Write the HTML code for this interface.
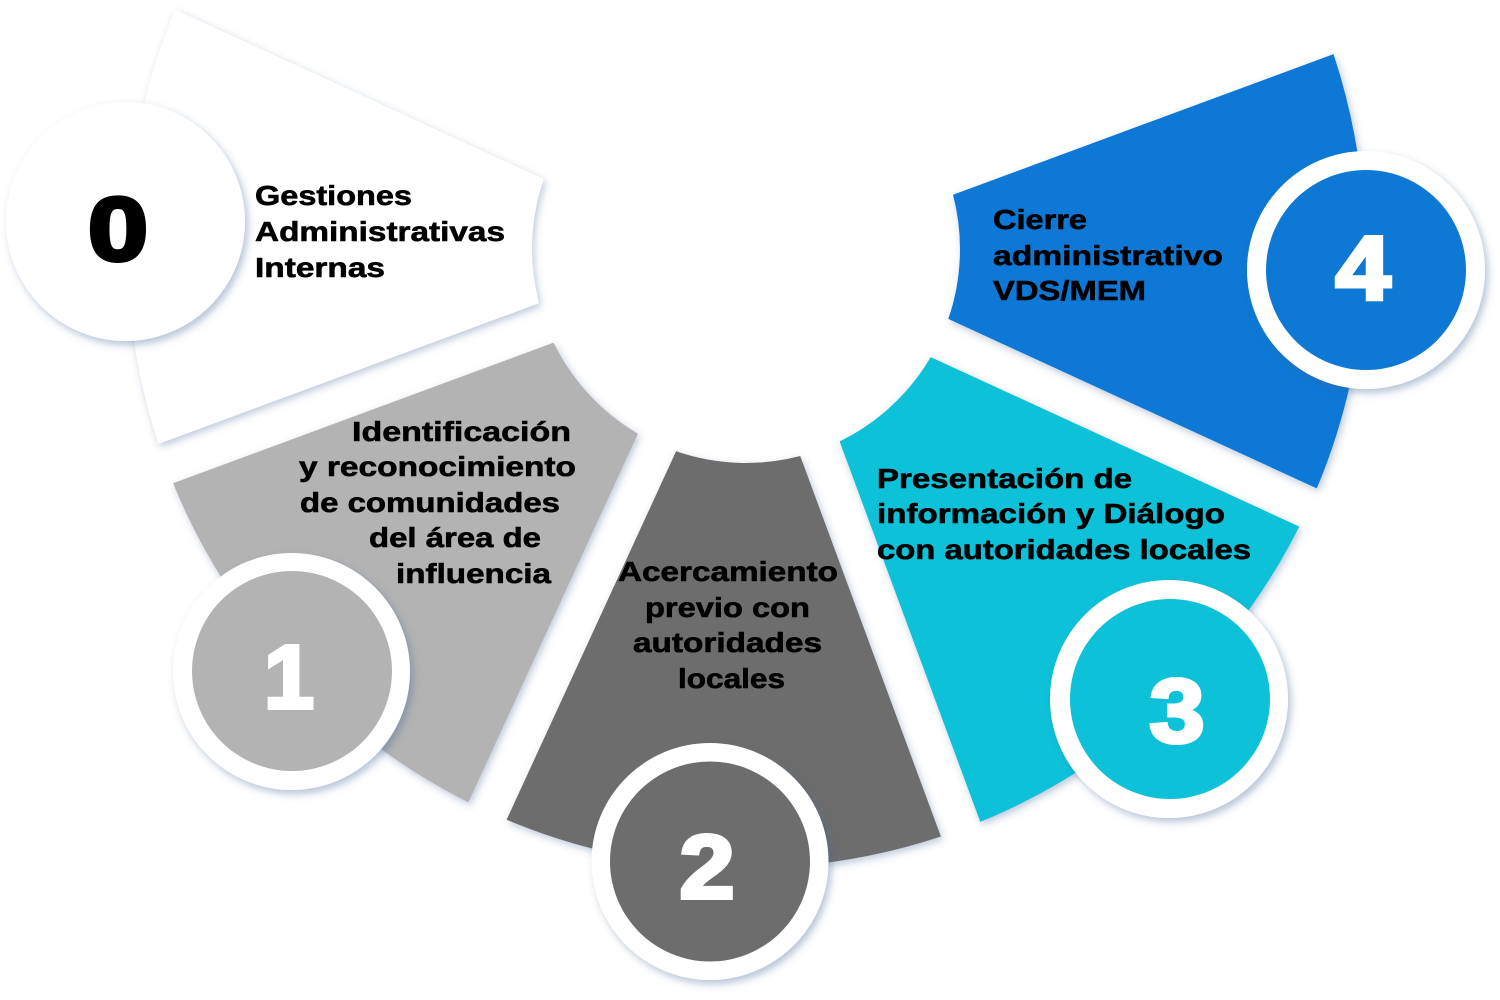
<!DOCTYPE html>
<html>
<head>
<meta charset="utf-8">
<style>
  html, body { margin: 0; padding: 0; background: #ffffff; }
  body { width: 1500px; height: 1000px; overflow: hidden; }
  svg { display: block; }
  .lbl { font-family: "Liberation Sans", "DejaVu Sans", sans-serif; font-weight: bold; font-size: 28px; fill: #000; stroke: #000; stroke-width: 0.6px; }
  .dig { font-family: "Liberation Sans", "DejaVu Sans", sans-serif; font-weight: bold; font-size: 90px; }
</style>
</head>
<body>
<svg width="1500" height="1000" viewBox="0 0 1500 1000" xmlns="http://www.w3.org/2000/svg">
  <defs>
    <filter id="sh" x="-20%" y="-20%" width="140%" height="140%">
      <feDropShadow dx="2" dy="3" stdDeviation="4" flood-color="#3f6293" flood-opacity="0.35"/>
    </filter>
    <filter id="shc" x="-20%" y="-20%" width="140%" height="140%">
      <feDropShadow dx="3" dy="4" stdDeviation="4" flood-color="#3f6293" flood-opacity="0.38"/>
    </filter>
  </defs>

  <!-- Segments -->
  <path filter="url(#sh)" fill="#ffffff" d="M 158.5 443.9 A 619 619 0 0 1 175.2 9.6 L 543.7 179.1 A 214 214 0 0 0 539.0 303.2 Z"/>
  <path filter="url(#sh)" fill="#b3b3b3" d="M 468.4 802.3 A 619 619 0 0 1 173.1 483.3 L 553.6 342.6 A 214 214 0 0 0 637.9 433.7 Z"/>
  <path filter="url(#sh)" fill="#6d6d6d" d="M 940.9 836.5 A 619 619 0 0 1 506.6 819.8 L 676.1 451.3 A 214 214 0 0 0 800.2 456.0 Z"/>
  <path filter="url(#sh)" fill="#0dc1d9" d="M 1299.3 526.6 A 619 619 0 0 1 980.3 821.9 L 839.6 441.4 A 214 214 0 0 0 930.7 357.1 Z"/>
  <path filter="url(#sh)" fill="#0e78d5" d="M 1333.5 54.1 A 619 619 0 0 1 1316.8 488.4 L 948.3 318.9 A 214 214 0 0 0 953.0 194.8 Z"/>

  <!-- Labels -->
  <text class="lbl" x="255" y="205" textLength="157" lengthAdjust="spacingAndGlyphs">Gestiones</text>
  <text class="lbl" x="255" y="241" textLength="250" lengthAdjust="spacingAndGlyphs">Administrativas</text>
  <text class="lbl" x="255" y="277" textLength="130" lengthAdjust="spacingAndGlyphs">Internas</text>

  <text class="lbl" x="352" y="441" textLength="219" lengthAdjust="spacingAndGlyphs">Identificación</text>
  <text class="lbl" x="299" y="476" textLength="277" lengthAdjust="spacingAndGlyphs">y reconocimiento</text>
  <text class="lbl" x="300" y="512" textLength="260" lengthAdjust="spacingAndGlyphs">de comunidades</text>
  <text class="lbl" x="369" y="547" textLength="172" lengthAdjust="spacingAndGlyphs">del área de</text>
  <text class="lbl" x="396" y="583" textLength="155" lengthAdjust="spacingAndGlyphs">influencia</text>

  <text class="lbl" x="618" y="581" textLength="220" lengthAdjust="spacingAndGlyphs">Acercamiento</text>
  <text class="lbl" x="645" y="617" textLength="165" lengthAdjust="spacingAndGlyphs">previo con</text>
  <text class="lbl" x="633" y="652" textLength="189" lengthAdjust="spacingAndGlyphs">autoridades</text>
  <text class="lbl" x="678" y="688" textLength="107" lengthAdjust="spacingAndGlyphs">locales</text>

  <text class="lbl" x="877" y="488" textLength="255" lengthAdjust="spacingAndGlyphs">Presentación de</text>
  <text class="lbl" x="877" y="523" textLength="348" lengthAdjust="spacingAndGlyphs">información y Diálogo</text>
  <text class="lbl" x="877" y="559" textLength="374" lengthAdjust="spacingAndGlyphs">con autoridades locales</text>

  <text class="lbl" x="993" y="229" textLength="94" lengthAdjust="spacingAndGlyphs">Cierre</text>
  <text class="lbl" x="993" y="265" textLength="230" lengthAdjust="spacingAndGlyphs">administrativo</text>
  <text class="lbl" x="993" y="300" textLength="153" lengthAdjust="spacingAndGlyphs">VDS/MEM</text>

  <!-- Circles -->
  <circle filter="url(#shc)" cx="125.5" cy="221.5" r="119.5" fill="#ffffff"/>

  <circle filter="url(#shc)" cx="291.5" cy="671.5" r="118.5" fill="#ffffff"/>
  <circle cx="292" cy="671" r="100" fill="#b3b3b3"/>

  <circle filter="url(#shc)" cx="710" cy="861.5" r="118.5" fill="#ffffff"/>
  <circle cx="710" cy="861.5" r="100" fill="#6d6d6d"/>

  <circle filter="url(#shc)" cx="1169" cy="699" r="119" fill="#ffffff"/>
  <circle cx="1170" cy="699" r="100" fill="#0dc1d9"/>

  <circle filter="url(#shc)" cx="1366" cy="270" r="119" fill="#ffffff"/>
  <circle cx="1366" cy="270" r="100" fill="#0e78d5"/>

  <!-- Digits -->
  <g transform="translate(118,260) scale(1.2,1)">
    <text class="dig" x="0" y="0" text-anchor="middle" fill="#000" stroke="#000" stroke-width="4">0</text>
  </g>
  <g transform="translate(289,708)">
    <text class="dig" x="0" y="0" text-anchor="middle" fill="#fff" stroke="#fff" stroke-width="4">1</text>
  </g>
  <g transform="translate(707,898) scale(1.1,1)">
    <text class="dig" x="0" y="0" text-anchor="middle" fill="#fff" stroke="#fff" stroke-width="4">2</text>
  </g>
  <g transform="translate(1177,742) scale(1.1,1)">
    <text class="dig" x="0" y="0" text-anchor="middle" fill="#fff" stroke="#fff" stroke-width="4">3</text>
  </g>
  <g transform="translate(1363,299) scale(1.1,1)">
    <text class="dig" x="0" y="0" text-anchor="middle" fill="#fff" stroke="#fff" stroke-width="4">4</text>
  </g>
</svg>
</body>
</html>
